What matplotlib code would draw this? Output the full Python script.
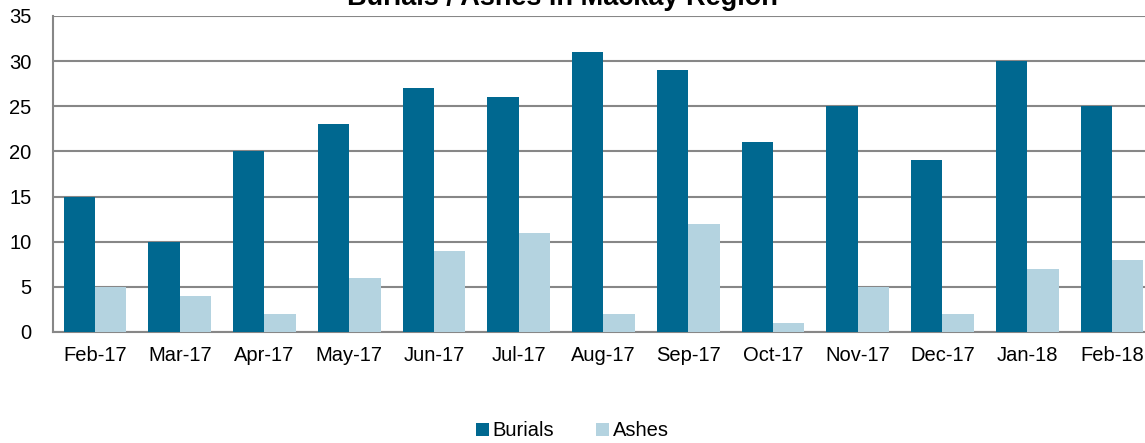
import numpy as np
import matplotlib.pyplot as plt

meses = ["Feb-17", "Mar-17", "Apr-17", "May-17", "Jun-17", "Jul-17", "Aug-17",
         "Sep-17", "Oct-17", "Nov-17", "Dec-17", "Jan-18", "Feb-18"]
burials = [15, 10, 20, 23, 27, 26, 31, 29, 21, 25, 19, 30, 25]
ashes = [5, 4, 2, 6, 9, 11, 2, 12, 1, 5, 2, 7, 8]

plt.rcParams["font.family"] = ["Liberation Sans", "DejaVu Sans"]

fig = plt.figure(figsize=(11.45, 4.43), dpi=100)
ax = fig.add_axes([0.0459, 0.2506, 0.9623, 0.7133])

# Barras agrupadas
x = np.arange(len(meses))
ancho = 0.37
ax.bar(x - ancho / 2, burials, ancho, color="#006890", label="Burials", zorder=3)
ax.bar(x + ancho / 2, ashes, ancho, color="#B4D3E0", label="Ashes", zorder=3)

ax.set_xlim(-0.5, len(meses) - 0.5)
ax.set_ylim(0, 35)
ax.set_yticks(range(0, 36, 5))
ax.set_xticks(x)
ax.set_xticklabels(meses)
ax.yaxis.grid(True, color="#878787", linewidth=1.5, zorder=0)
ax.tick_params(length=0, labelsize=14.5, pad=10)
ax.tick_params(axis="y", pad=15)

for lado in ["top", "right"]:
    ax.spines[lado].set_visible(False)
for lado in ["left", "bottom"]:
    ax.spines[lado].set_color("#878787")
    ax.spines[lado].set_linewidth(1.5)

fig.text(0.4915, 1 - 5 / 443, "Burials / Ashes in Mackay Region", ha="center", va="baseline",
         fontsize=19.5, fontweight="bold")

fig.legend(loc="center", bbox_to_anchor=(0.5, 1 - 431 / 443), ncol=2, frameon=False,
           fontsize=14.5, handlelength=0.6, handleheight=0.6, handletextpad=0.2, columnspacing=2.1)

fig.savefig("out.png", dpi=100)
